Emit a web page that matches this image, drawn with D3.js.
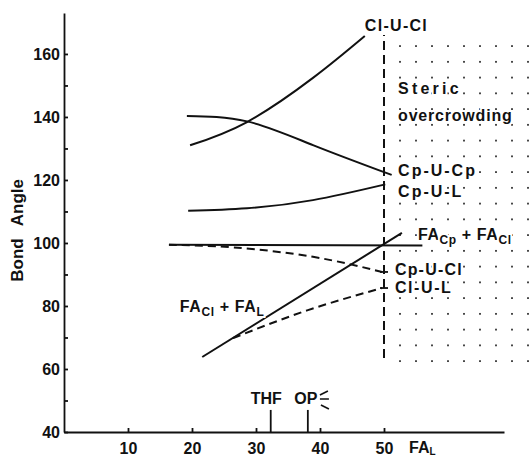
<!DOCTYPE html>
<html>
<head>
<meta charset="utf-8">
<script src="https://cdn.jsdelivr.net/npm/d3@7"></script>
<style>
  body { margin: 0; background: #fff; }
  svg { display: block; font-family: "Liberation Sans", Arial, sans-serif; }
  .lbl { font-size: 16px; font-weight: bold; letter-spacing: 1.5px; fill: #111; stroke: #fff; stroke-width: 4px; paint-order: stroke; }
  .axis text { font-size: 16px; font-weight: bold; fill: #111; }
  .axis path, .axis line { stroke: #111; stroke-width: 1.8; }
</style>
</head>
<body>
<div id="chart"></div>
<script>
// tick values
var xTicks = [10, 20, 30, 40, 50];
var yTicks = [40, 60, 80, 100, 120, 140, 160];
var yMinor = [50, 70, 90, 110, 130, 150];

// curves: [FA_L, bond angle]
var clUCl = [[19.7, 131], [28.6, 138.4], [38.9, 152.4], [47, 165.7]];
var cpUCp = [[19.2, 140.3], [28.6, 138.6], [39, 131], [51.2, 121.6]];
var cpUL = [[19.4, 110.2], [28.6, 111], [38.9, 113.6], [50.2, 118.6]];
var faCpCl = [[16.4, 99.4], [56, 99.2]];
var cpUCl = [[16.4, 99.4], [26.4, 98.6], [38.9, 95.6], [49.7, 90.8]];
var clUL = [[26.4, 69.8], [38, 78.6], [49.7, 85.7]];
var faClL = [[21.6, 63.8], [52.8, 103.2]];
var stericLimit = [[50, 63.5], [50, 166]];

// dotted "steric overcrowding" region
var dotCols = [52.5, 55, 57.5, 60, 62.5, 65, 67.5, 70, 72.5];
var dotRows = [62.5, 67.5, 72.5, 77.5, 82.5, 87.5, 92.5, 97.5, 102.5, 107.5, 112.5, 117.5, 122.5,
               127.5, 132.5, 137.5, 142.5, 147.5, 152.5, 157.5, 162.5];

// solvent markers on the FA_L axis
var solvents = [{name: "THF", fa: 32.3, at: 31.6}, {name: "OP", fa: 38.1, at: 37.8}];

var width = 529, height = 456;

var x = d3.scaleLinear().domain([0, 68.75]).range([64, 504]);
var y = d3.scaleLinear().domain([40, 173]).range([432, 13]);

var svg = d3.select("#chart").append("svg")
    .attr("width", width)
    .attr("height", height);

svg.append("rect").attr("width", width).attr("height", height).attr("fill", "#fff");

// dots
var dots = [];
dotRows.forEach(function(r) { dotCols.forEach(function(c) { dots.push([c, r]); }); });
svg.append("g").selectAll("rect")
    .data(dots)
  .enter().append("rect")
    .attr("x", function(d) { return x(d[0]) - 0.9; })
    .attr("y", function(d) { return y(d[1]) - 0.9; })
    .attr("width", 1.8)
    .attr("height", 1.8)
    .attr("fill", "#333");

// axes
svg.append("g")
    .attr("class", "axis")
    .attr("transform", "translate(" + x(0) + ",0)")
    .call(d3.axisLeft(y).tickValues(yTicks).tickSizeInner(-4).tickSizeOuter(0).tickPadding(4).tickFormat(d3.format("d")));

svg.append("g")
    .attr("class", "axis")
    .attr("transform", "translate(" + x(0) + ",0)")
    .call(d3.axisLeft(y).tickValues(yMinor).tickSizeInner(-4).tickSizeOuter(0).tickFormat(""))
    .select(".domain").remove();

svg.append("g")
    .attr("class", "axis")
    .attr("transform", "translate(0," + y(40) + ")")
    .call(d3.axisBottom(x).tickValues(xTicks).tickSizeInner(-4).tickSizeOuter(0).tickPadding(11).tickFormat(d3.format("d")));

// x axis title next to the 50 label
var xt = svg.append("text")
    .attr("x", x(50) + 25)
    .attr("y", y(40) + 21)
    .attr("font-size", 16)
    .attr("font-weight", "bold")
    .attr("fill", "#111");
xt.append("tspan").text("FA");
xt.append("tspan").attr("font-size", 10).attr("dy", 2).text("L");

// y axis title
var yt = svg.append("text")
    .attr("transform", "translate(23," + y(104) + ") rotate(-90)")
    .attr("text-anchor", "middle")
    .attr("font-size", 17)
    .attr("font-weight", "bold")
    .attr("fill", "#111");
yt.append("tspan").text("Bond");
yt.append("tspan").attr("dx", 12).text("Angle");

// curves
var line = d3.line()
    .x(function(d) { return x(d[0]); })
    .y(function(d) { return y(d[1]); })
    .curve(d3.curveNatural);

var straight = d3.line()
    .x(function(d) { return x(d[0]); })
    .y(function(d) { return y(d[1]); });

[clUCl, cpUCp, cpUL].forEach(function(c) {
  svg.append("path").attr("d", line(c)).attr("fill", "none").attr("stroke", "#111").attr("stroke-width", 2);
});
[faCpCl, faClL].forEach(function(c) {
  svg.append("path").attr("d", straight(c)).attr("fill", "none").attr("stroke", "#111").attr("stroke-width", 2);
});
[cpUCl, clUL].forEach(function(c) {
  svg.append("path").attr("d", line(c)).attr("fill", "none").attr("stroke", "#111")
      .attr("stroke-width", 2).attr("stroke-dasharray", "8,5");
  // small end mark where the dashed curve meets the limit line
  var e = c[c.length - 1];
  svg.append("line")
      .attr("x1", x(50) - 4).attr("x2", x(50) + 4)
      .attr("y1", y(e[1])).attr("y2", y(e[1]))
      .attr("stroke", "#111").attr("stroke-width", 1.8);
});
svg.append("path").attr("d", straight(stericLimit)).attr("fill", "none").attr("stroke", "#111")
    .attr("stroke-width", 2).attr("stroke-dasharray", "9,5");

// solvent markers
solvents.forEach(function(s) {
  svg.append("line")
      .attr("x1", x(s.fa)).attr("x2", x(s.fa))
      .attr("y1", y(40)).attr("y2", y(47))
      .attr("stroke", "#111").attr("stroke-width", 1.8);
  svg.append("text").attr("x", x(s.at)).attr("y", y(48.9)).attr("text-anchor", "middle")
      .attr("font-size", 16).attr("font-weight", "bold").attr("fill", "#111").text(s.name);
});
var ox = x(37.8) + 14, oy = y(48.9);
svg.append("path")
    .attr("d", "M" + ox + "," + (oy - 9) + "l8,-4 M" + ox + "," + (oy - 5) + "l9,0 M" + (ox + 1) + "," + (oy + 1) + "l8,4")
    .attr("stroke", "#111").attr("stroke-width", 1.6).attr("fill", "none");

// curve labels
function label(t, fa, ang, ls) {
  return svg.append("text").attr("class", "lbl").attr("x", x(fa)).attr("y", y(ang))
      .style("letter-spacing", ls + "px").text(t);
}
label("Cl-U-Cl", 47, 167.3, 1.3);
label("Steric", 52.2, 147.3, 3.2);
label("overcrowding", 52.2, 138.7, 0.8);
label("Cp-U-Cp", 52.2, 121.3, 2);
label("Cp-U-L", 52.2, 114.6, 2);
label("Cp-U-Cl", 51.7, 89.8, 1.2);
label("Cl-U-L", 51.7, 84.2, 1.6);

function sumLabel(a, b, fa, ang) {
  var t = svg.append("text").attr("class", "lbl").attr("x", x(fa)).attr("y", y(ang))
      .style("letter-spacing", "0.6px");
  t.append("tspan").text("FA");
  t.append("tspan").attr("font-size", 12).attr("dy", 4).text(a);
  t.append("tspan").attr("dy", -4).text(" + FA");
  t.append("tspan").attr("font-size", 12).attr("dy", 4).text(b);
  return t;
}
sumLabel("Cp", "Cl", 55.3, 100.9);
sumLabel("Cl", "L", 18.1, 78.2);
</script>
</body>
</html>
